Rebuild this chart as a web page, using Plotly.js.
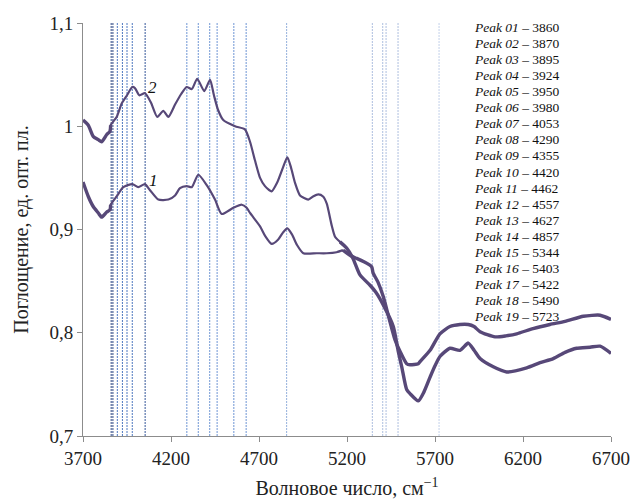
<!DOCTYPE html>
<html><head><meta charset="utf-8">
<script src="https://cdn.plot.ly/plotly-3.0.1.min.js"></script>
<style>html,body{margin:0;padding:0;background:#fff}</style>
</head><body><div id="chart" style="width:633px;height:501px"></div>
<script>
// Curve 2 (upper at the left)
const wavenumber2 = [3700,3730,3759,3787,3806,3835,3853,3857,3891,3920,3950,3980,3995,4020,4052,4086,4122,4156,4185,4223,4257,4289,4318,4349,4389,4422,4444,4467,4497,4564,4620,4649,4677,4706,4734,4772,4802,4836,4861,4882,4905,4933,4980,5007,5037,5064,5085,5113,5132,5160,5198,5234,5274,5331,5365,5406,5463,5490,5511,5539,5558,5605,5638,5672,5700,5728,5785,5842,5889,5922,5956,6031,6107,6221,6297,6372,6439,6505,6581,6638,6700];
const absorbance2 = [1.006,1.001,0.990,0.987,0.985,0.992,0.995,1.001,1.009,1.022,1.030,1.038,1.037,1.030,1.032,1.023,1.009,1.015,1.009,1.021,1.031,1.038,1.036,1.046,1.034,1.045,1.030,1.016,1.006,1.000,0.997,0.985,0.967,0.950,0.942,0.937,0.945,0.960,0.970,0.960,0.945,0.933,0.929,0.932,0.934,0.932,0.925,0.904,0.893,0.888,0.882,0.872,0.856,0.846,0.839,0.827,0.806,0.783,0.767,0.745,0.741,0.734,0.743,0.757,0.768,0.777,0.785,0.783,0.790,0.783,0.775,0.767,0.762,0.766,0.771,0.775,0.781,0.785,0.786,0.787,0.780];
// Curve 1 (lower at the left)
const wavenumber1 = [3700,3730,3759,3787,3806,3835,3853,3857,3891,3929,3980,4014,4052,4081,4128,4185,4223,4251,4289,4318,4355,4403,4450,4488,4554,4602,4630,4649,4706,4734,4772,4808,4836,4861,4888,4916,4952,5028,5085,5141,5177,5217,5255,5293,5340,5348,5376,5406,5439,5473,5501,5539,5558,5605,5615,5672,5728,5785,5842,5889,5922,5956,6041,6103,6164,6257,6353,6439,6543,6638,6700];
const absorbance1 = [0.946,0.932,0.922,0.916,0.912,0.917,0.919,0.924,0.932,0.941,0.944,0.941,0.944,0.938,0.929,0.929,0.933,0.940,0.942,0.941,0.953,0.943,0.929,0.915,0.921,0.924,0.921,0.916,0.903,0.894,0.886,0.890,0.897,0.901,0.895,0.885,0.877,0.877,0.877,0.878,0.880,0.875,0.872,0.869,0.864,0.858,0.849,0.835,0.814,0.793,0.782,0.770,0.769,0.770,0.772,0.783,0.799,0.806,0.808,0.808,0.806,0.801,0.796,0.797,0.799,0.804,0.808,0.811,0.816,0.817,0.813];

const peakNames = ["Peak 01","Peak 02","Peak 03","Peak 04","Peak 05","Peak 06","Peak 07","Peak 08","Peak 09","Peak 10","Peak 11","Peak 12","Peak 13","Peak 14","Peak 15","Peak 16","Peak 17","Peak 18","Peak 19"];
const peakPositions = [3860,3870,3895,3924,3950,3980,4053,4290,4355,4420,4462,4557,4627,4857,5344,5403,5422,5490,5723];

const xTickVals = [3700,4200,4700,5200,5700,6200,6700];
const yTickVals = [0.7,0.8,0.9,1.0,1.1];
const yTickText = ["0,7","0,8","0,9","1","1,1"];
const curveNames = ["1","2"];

const FONT = '"Liberation Serif","Times New Roman",serif';
const CURVE = '#574878';

function peakColor(p){
  if (p <= 3870) return '#2f4a86';
  if (p === 4053) return '#35569a';
  if (p < 4290) return '#4f78c0';
  if (p < 4800) return '#6f96d4';
  if (p < 5000) return '#94b0dc';
  if (p < 5600) return '#aebfdf';
  return '#c4d1ea';
}

function segment(xs, ys, lo, hi){
  const sx=[], sy=[];
  for(let i=0;i<xs.length;i++){ if(xs[i]>=lo && xs[i]<=hi){ sx.push(xs[i]); sy.push(ys[i]); } }
  return {sx, sy};
}
const traces = [];
[[wavenumber1,absorbance1],[wavenumber2,absorbance2]].forEach(([xs,ys])=>{
  [[3700,3860,3.4],[3853,5200,2.2],[5160,6700,3.4]].forEach(([lo,hi,w])=>{
    const s = segment(xs,ys,lo,hi);
    traces.push({x:s.sx,y:s.sy,type:'scatter',mode:'lines',line:{color:CURVE,width:w,shape:'spline',smoothing:0.6},hoverinfo:'skip',showlegend:false});
  });
});

const shapes = peakPositions.map(p=>({type:'line',xref:'x',yref:'y',x0:p,x1:p,y0:yTickVals[0],y1:yTickVals[yTickVals.length-1],
  line:{color:peakColor(p),width:1,dash:'2px,1px'},layer:'below'}));

const annotations = peakNames.map((n,i)=>({
  xref:'paper',yref:'paper',x:0.737,y:(436-(27.3+16.08*i))/413,xanchor:'left',yanchor:'middle',
  text:'<i>'+n+'</i> – '+peakPositions[i],showarrow:false,font:{family:FONT,size:13.5,color:'#111'}
}));
annotations.push({xref:'x',yref:'y',x:4100,y:0.947,text:'<i>'+curveNames[0]+'</i>',showarrow:false,font:{family:FONT,size:17,color:'#111'}});
annotations.push({xref:'x',yref:'y',x:4097,y:1.038,text:'<i>'+curveNames[1]+'</i>',showarrow:false,font:{family:FONT,size:17,color:'#111'}});

const layout = {
  width:633,height:501,margin:{l:83,r:22,t:23,b:65},
  paper_bgcolor:'#fff',plot_bgcolor:'#fff',
  font:{family:FONT,size:19,color:'#222'},
  showlegend:false,
  xaxis:{range:[3700,6700],tickvals:xTickVals,ticktext:xTickVals.map(String),showgrid:false,zeroline:false,
    showline:true,linecolor:'#8c8c8c',linewidth:1,ticks:'outside',ticklen:5,tickcolor:'#8c8c8c',
    tickfont:{family:FONT,size:19,color:'#222'},automargin:false,
    title:{text:'Волновое число, см<sup>−1</sup>',font:{family:FONT,size:20,color:'#222'},standoff:13}},
  yaxis:{range:[0.7,1.1],tickvals:yTickVals,ticktext:yTickText,showgrid:false,zeroline:false,
    showline:true,linecolor:'#8c8c8c',linewidth:1,ticks:'outside',ticklen:5,tickcolor:'#8c8c8c',
    tickfont:{family:FONT,size:19,color:'#222'},automargin:false,
    title:{text:'Поглощение, ед. опт. пл.',font:{family:FONT,size:20,color:'#222'},standoff:15}},
  shapes, annotations
};
Plotly.newPlot('chart', traces, layout, {staticPlot:true,displayModeBar:false});
</script></body></html>
